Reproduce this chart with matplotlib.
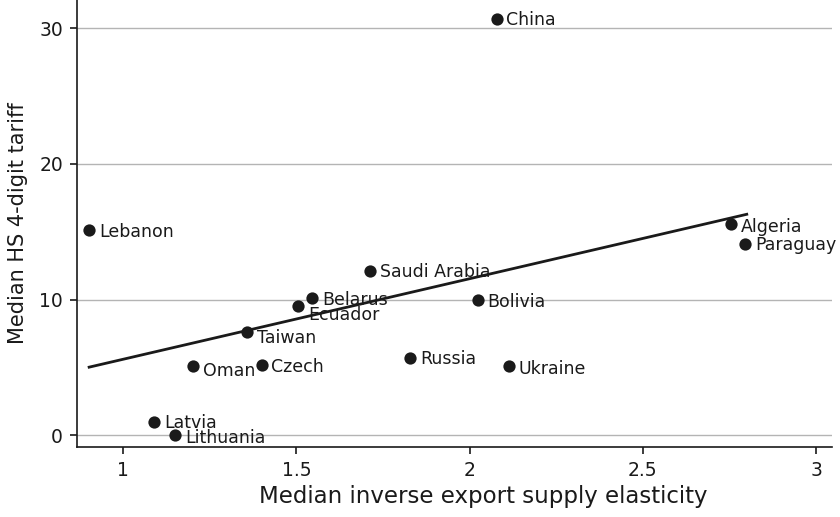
import numpy as np
import matplotlib
matplotlib.use("Agg")
import matplotlib.pyplot as plt

plt.rcParams['font.family'] = ['DejaVu Sans']

# countries and their (elasticity, tariff) values
countries = ["China", "Lebanon", "Algeria", "Paraguay", "Saudi Arabia", "Belarus",
             "Ecuador", "Bolivia", "Taiwan", "Oman", "Czech", "Russia", "Ukraine",
             "Latvia", "Lithuania"]
elasticity = [2.078, 0.902, 2.754, 2.795, 1.714, 1.546,
              1.506, 2.023, 1.358, 1.202, 1.40, 1.829, 2.113,
              1.09, 1.15]
tariff = [30.7, 15.1, 15.6, 14.1, 12.1, 10.1,
          9.5, 10.0, 7.6, 5.1, 5.2, 5.7, 5.1,
          1.0, 0.0]

# fitted line endpoints
fit_x = [0.902, 2.80]
fit_y = [5.01, 16.29]

# vertical nudge of labels in points (negative = down)
nudge = {"Ecuador": -5.5, "Oman": -2.5, "Lithuania": -1.5, "Algeria": -1.5,
         "Ukraine": -1.5, "Taiwan": -3.5, "Bolivia": -0.7, "Czech": -0.7}

fig = plt.figure(figsize=(8.4, 5.17), dpi=100)
ax = fig.add_axes([77/840, 70/517, (832-77)/840, 447/517])

ax.set_xlim(0.867, 3.046)
ax.set_ylim(-0.88, 32.1)

ax.grid(axis='y', color='#b4b4b4', linewidth=1)
ax.set_axisbelow(True)

ax.plot(fit_x, fit_y, color='#1a1a1a', linewidth=2, zorder=3)
ax.scatter(elasticity, tariff, s=78, color='#1a1a1a', zorder=4, linewidths=0)

lab_size = 12.5
for name, xv, yv in zip(countries, elasticity, tariff):
    dy = nudge.get(name, 0) - 0.73 * lab_size / 2
    ax.annotate(name, (xv, yv), xytext=(7, dy), textcoords='offset points',
                ha='left', va='baseline', fontsize=lab_size, color='#1a1a1a', zorder=5)

ax.set_xticks([1, 1.5, 2, 2.5, 3])
ax.set_xticklabels(["1", "1.5", "2", "2.5", "3"])
ax.set_yticks([0, 10, 20, 30])

ax.spines['top'].set_visible(False)
ax.spines['right'].set_visible(False)
for s in ['left', 'bottom']:
    ax.spines[s].set_linewidth(1.2)
    ax.spines[s].set_color('#1a1a1a')
ax.tick_params(axis='both', length=5, width=1.2, labelsize=13.5, colors='#1a1a1a', pad=5)

ax.set_xlabel("Median inverse export supply elasticity", fontsize=16.5, color='#1a1a1a')
ax.xaxis.set_label_coords(0.538, -0.085)
ax.set_ylabel("Median HS 4-digit tariff", fontsize=15, color='#1a1a1a', labelpad=8)

fig.savefig("out.png", dpi=100)
